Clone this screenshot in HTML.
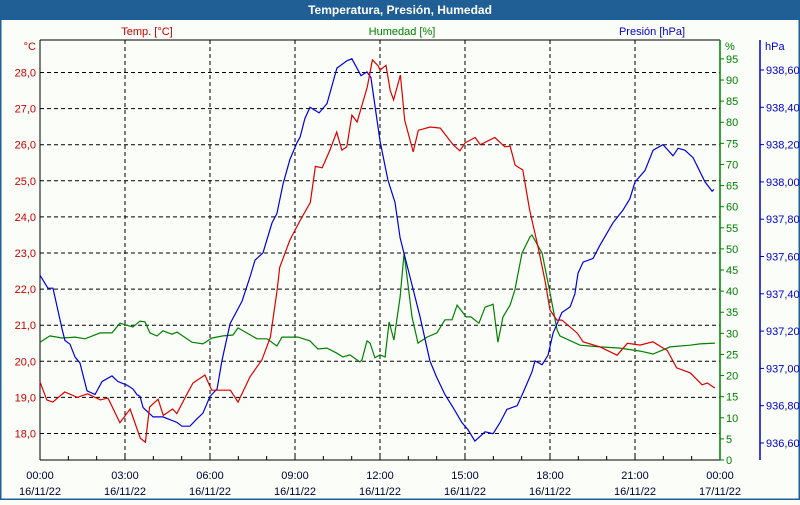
<!DOCTYPE html>
<html><head><meta charset="utf-8"><style>
body{margin:0;width:800px;height:500px;overflow:hidden;background:#fbfdf8;font-family:"Liberation Sans",sans-serif}
svg text{font-family:"Liberation Sans",sans-serif;font-size:11px}
</style></head><body>
<svg id="c" width="800" height="500">
<rect x="0" y="0" width="800" height="500" fill="#fbfdf8"/>
<rect x="0.5" y="0.5" width="799" height="499" fill="none" stroke="#1f5f96" stroke-width="2"/>
<rect x="0" y="0" width="800" height="20" fill="#1f5f96"/>
<text x="400" y="14" text-anchor="middle" fill="#fff" font-weight="bold" style="font-size:12px">Temperatura, Presión, Humedad</text>
<text x="147" y="35" text-anchor="middle" fill="#cc0000">Temp. [°C]</text>
<text x="402" y="35" text-anchor="middle" fill="#008000">Humedad [%]</text>
<text x="652" y="35" text-anchor="middle" fill="#0000cc">Presión [hPa]</text>
<text x="36" y="50" text-anchor="end" fill="#cc0000">°C</text>
<text x="725" y="50" fill="#008000">%</text>
<text x="765" y="50" fill="#0000cc">hPa</text>
<g id="grid"></g><g id="axes"></g><g id="series"></g>
</svg>
<script>
const tempHours=[0,.24,.45,.87,1.32,1.68,2.13,2.4,2.82,3.18,3.54,3.72,3.87,4.17,4.35,4.68,4.83,5.19,5.4,5.82,6.06,6.72,6.99,7.41,7.83,8.13,8.37,8.46,8.82,9.18,9.54,9.72,9.96,10.23,10.47,10.65,10.83,11.01,11.19,11.55,11.73,11.94,12.0,12.21,12.36,12.48,12.72,12.87,13.17,13.35,13.77,14.13,14.58,14.82,15.0,15.36,15.54,16.05,16.41,16.59,16.77,17.04,17.28,17.58,17.82,18.0,18.24,18.42,18.96,19.17,19.77,20.13,20.37,20.73,21.18,21.63,22.14,22.47,22.95,23.37,23.55,23.82];
const tempValues=[19.43,18.93,18.87,19.15,19.0,19.1,18.93,18.98,18.3,18.68,17.87,17.76,18.73,18.95,18.5,18.68,18.55,19.1,19.4,19.62,19.2,19.2,18.87,19.57,20.04,20.67,21.97,22.6,23.36,23.9,24.4,25.4,25.36,25.85,26.35,25.85,25.94,26.82,26.63,27.6,28.35,28.18,28.07,28.2,27.5,27.24,27.93,26.68,25.8,26.4,26.49,26.46,26.0,25.83,26.05,26.2,26.0,26.2,25.94,25.96,25.43,25.3,24.2,23.16,22.25,21.42,21.14,21.14,20.78,20.54,20.4,20.26,20.17,20.5,20.45,20.54,20.3,19.82,19.68,19.35,19.4,19.26];
const humHours=[0,.35,.78,1.24,1.59,2.12,2.54,2.82,3.28,3.53,3.71,3.88,4.13,4.34,4.66,4.84,5.36,5.75,6.07,6.46,6.81,6.99,7.66,8.01,8.36,8.54,9.11,9.53,9.81,10.13,10.48,10.69,10.94,11.29,11.36,11.54,11.65,11.82,12.0,12.18,12.32,12.49,12.71,12.85,13.13,13.34,13.66,14.01,14.29,14.54,14.72,15.04,15.21,15.49,15.71,15.99,16.16,16.34,16.59,16.76,17.01,17.29,17.36,17.72,18.0,18.25,18.35,19.06,19.76,20.47,21.18,21.64,22.24,22.94,23.29,23.82];
const humValues=[27.9,29.4,28.9,29.1,28.7,30.1,30.1,32.4,31.5,32.9,32.7,30.1,29.4,30.6,29.8,30.3,27.9,27.5,28.9,29.4,29.6,31.3,28.7,28.7,27.0,29.1,29.1,28.2,26.3,26.5,25.3,24.4,24.9,23.2,23.7,28.2,27.7,24.2,24.9,24.4,32.7,28.4,38.6,49.0,33.9,27.7,29.1,30.1,33.2,33.2,36.7,33.9,33.9,32.4,36.2,36.9,27.9,33.9,36.7,40.3,49.0,52.8,53.3,49.0,39.6,30.8,29.4,27.2,26.8,26.5,25.8,25.1,26.8,27.2,27.5,27.7];
const presHours=[0,.28,.46,.78,.88,1.06,1.24,1.41,1.66,1.94,2.19,2.54,2.75,3.07,3.28,3.42,3.53,3.64,3.99,4.34,4.84,5.01,5.29,5.54,5.75,6.0,6.25,6.42,6.71,7.13,7.41,7.59,7.87,8.19,8.36,8.58,8.82,9.07,9.18,9.35,9.53,9.85,10.13,10.48,10.84,11.01,11.33,11.54,11.68,12.0,12.28,12.53,12.71,13.06,13.41,13.76,14.01,14.29,14.58,14.89,15.11,15.35,15.71,15.99,16.24,16.48,16.84,17.05,17.36,17.47,17.72,17.93,18.11,18.42,18.71,18.88,18.99,19.17,19.52,19.76,20.22,20.58,20.82,21.0,21.35,21.64,21.99,22.34,22.52,22.76,23.05,23.47,23.72,23.79];
const presValues=[937.50,937.43,937.43,937.21,937.15,937.13,937.06,937.03,936.88,936.86,936.93,936.96,936.93,936.91,936.89,936.86,936.85,936.79,936.74,936.74,936.71,936.69,936.69,936.73,936.76,936.85,936.89,937.04,937.24,937.36,937.49,937.58,937.62,937.78,937.83,937.99,938.12,938.21,938.24,938.34,938.40,938.37,938.42,938.61,938.65,938.66,938.57,938.59,938.56,938.22,938.01,937.89,937.70,937.49,937.28,937.04,936.95,936.86,936.79,936.71,936.67,936.61,936.66,936.65,936.71,936.78,936.80,936.87,936.98,937.04,937.02,937.07,937.19,937.30,937.33,937.40,937.51,937.57,937.59,937.66,937.78,937.85,937.91,938.00,938.06,938.17,938.20,938.14,938.18,938.17,938.13,938.00,937.95,937.96];
const tempTicks=[18,19,20,21,22,23,24,25,26,27,28];
const humTicks=[0,5,10,15,20,25,30,35,40,45,50,55,60,65,70,75,80,85,90,95];
const presTicks=[936.6,936.8,937.0,937.2,937.4,937.6,937.8,938.0,938.2,938.4,938.6];
const timeLabels=["00:00","03:00","06:00","09:00","12:00","15:00","18:00","21:00","00:00"];
const dateLabels=["16/11/22","16/11/22","16/11/22","16/11/22","16/11/22","16/11/22","16/11/22","16/11/22","17/11/22"];

const L=40,R=720,T=40,B=460;
const xS=h=>L+h*(R-L)/24;
const yT=v=>72.5+(28-v)*36.1;
const yH=v=>460-v*4.222;
const yP=v=>70+(938.6-v)*186.5;
const NS="http://www.w3.org/2000/svg";
function mk(tag,attrs,parent,txt){const e=document.createElementNS(NS,tag);for(const k in attrs)e.setAttribute(k,attrs[k]);if(txt!==undefined)e.textContent=txt;parent.appendChild(e);return e;}
const grid=document.getElementById('grid'),axes=document.getElementById('axes'),series=document.getElementById('series');
const fmt=(v,d)=>v.toFixed(d).replace('.',',');
tempTicks.forEach(v=>{
  const y=yT(v);
  const g=mk('line',{x1:L,x2:R,y1:y,y2:y,stroke:'#000','stroke-dasharray':'4,3','stroke-width':1},grid);
  
  
  const t=mk('text',{x:36,y:y+4,'text-anchor':'end',fill:'#cc0000'},axes,fmt(v,1));
  
  
});
timeLabels.forEach((lab,i)=>{
  const x=xS(i*3);
  if(i>0&&i<8){const g=mk('line',{x1:x,x2:x,y1:T,y2:B,stroke:'#000','stroke-dasharray':'4,3'},grid);
  
  }
  const t=mk('text',{x:x,y:479,'text-anchor':'middle',fill:'#000033'},axes,lab);
  
  
  const d=mk('text',{x:x,y:495,'text-anchor':'middle',fill:'#000033'},axes,dateLabels[i]);
  
  
});
for(let h=0;h<=24;h++){mk('line',{x1:xS(h),x2:xS(h),y1:B,y2:B-4,stroke:'#000'},axes);}
mk('line',{x1:L,x2:L,y1:T,y2:B,stroke:'#000'},axes);
mk('line',{x1:L,x2:R,y1:T,y2:T,stroke:'#000'},axes);
mk('line',{x1:L,x2:R,y1:B,y2:B,stroke:'#000'},axes);
mk('line',{x1:R,x2:R,y1:T,y2:B,stroke:'#008000','stroke-width':1.5},axes);
mk('line',{x1:760,x2:760,y1:T,y2:B,stroke:'#0000cc','stroke-width':1.5},axes);
humTicks.forEach(v=>{
  const y=yH(v);
  mk('line',{x1:R,x2:R+4,y1:y,y2:y,stroke:'#008000'},axes);
  const t=mk('text',{x:726,y:y+4,fill:'#008000'},axes,String(v));
  
  
});
presTicks.forEach(v=>{
  const y=yP(v);
  mk('line',{x1:760,x2:764,y1:y,y2:y,stroke:'#0000cc'},axes);
  const t=mk('text',{x:766,y:y+4,fill:'#0000cc'},axes,fmt(v,2));
  
  
});
function line(hs,vs,yf,col,name){
  const d=hs.map((h,i)=>(i?'L':'M')+xS(h).toFixed(1)+','+yf(vs[i]).toFixed(1)).join('');
  const p=mk('path',{d:d,fill:'none',stroke:col,'stroke-width':1.2},series);
  
  
}
line(humHours,humValues,yH,'#008000','humidity-line');
line(presHours,presValues,yP,'#0000dd','pressure-line');
line(tempHours,tempValues,yT,'#dd0000','temperature-line');
</script>
</body></html>
